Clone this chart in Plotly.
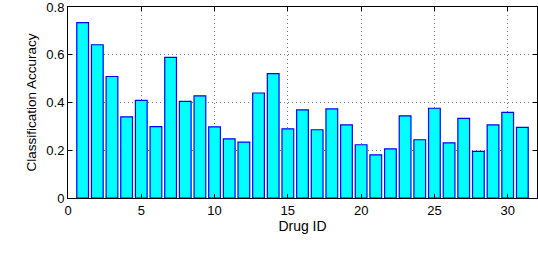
import plotly.graph_objects as go

drug_ids = list(range(1, 32))
accuracy = [0.735, 0.642, 0.509, 0.340, 0.409, 0.299, 0.589, 0.405, 0.428, 0.298,
            0.248, 0.234, 0.440, 0.521, 0.290, 0.369, 0.286, 0.373, 0.306, 0.223,
            0.181, 0.206, 0.344, 0.244, 0.376, 0.231, 0.334, 0.195, 0.306, 0.359,
            0.296]
x_ticks = [0, 5, 10, 15, 20, 25, 30]
y_ticks = [0, 0.2, 0.4, 0.6, 0.8]
y_tick_labels = ["0", "0.2", "0.4", "0.6", "0.8"]

fig = go.Figure(go.Bar(
    x=drug_ids, y=accuracy, width=0.8,
    marker=dict(color="#00FFFF", line=dict(color="#0000FF", width=1.2)),
))

axis_common = dict(
    showline=True, linecolor="black", linewidth=1, mirror="ticks",
    ticks="inside", ticklen=4, tickcolor="black",
    showgrid=True, gridcolor="#777777", griddash="1px,3px", gridwidth=1,
    zeroline=False, tickfont=dict(size=13, color="black"),
    automargin=False, ticklabeloverflow="allow",
)

fig.update_layout(
    width=538, height=256,
    margin=dict(l=68, r=1, t=7, b=58, autoexpand=False),
    paper_bgcolor="white", plot_bgcolor="white",
    font=dict(family="Liberation Sans", size=13, color="black"),
    showlegend=False, bargap=0,
    xaxis=dict(axis_common, range=[0, 32], tickvals=x_ticks,
               title=dict(text="Drug ID", standoff=2, font=dict(size=14))),
    yaxis=dict(axis_common, range=[0, 0.8002], tickvals=y_ticks, ticktext=y_tick_labels,
               title=dict(text="Classification Accuracy", standoff=6, font=dict(size=13.5))),
)

fig.write_html("out.html",
               config={"displayModeBar": False, "staticPlot": True},
               post_script="document.body.style.margin='0px';document.body.style.overflow='hidden';")
